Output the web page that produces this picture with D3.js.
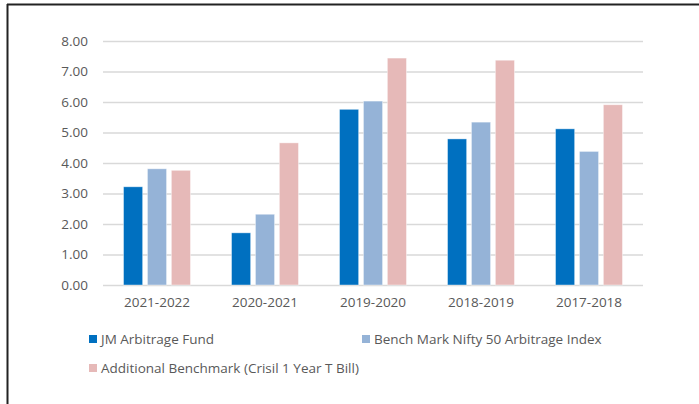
<!DOCTYPE html>
<html>
<head>
<meta charset="utf-8">
<script src="https://cdn.jsdelivr.net/npm/d3@7"></script>
<style>
  body { margin: 0; background: #fff; }
  text { font-family: "Open Sans", sans-serif; fill: #595959; }
</style>
</head>
<body>
<div id="chart"></div>
<script>
// Data
const years = ["2021-2022", "2020-2021", "2019-2020", "2018-2019", "2017-2018"];
const seriesNames = ["JM Arbitrage Fund", "Bench Mark Nifty 50 Arbitrage Index", "Additional Benchmark (Crisil 1 Year T Bill)"];
const jmFund = [3.22, 1.71, 5.76, 4.79, 5.12];
const niftyArb = [3.81, 2.32, 6.03, 5.34, 4.38];
const tBill = [3.76, 4.66, 7.44, 7.37, 5.91];
const yTicks = [0, 1, 2, 3, 4, 5, 6, 7, 8];

const seriesValues = [jmFund, niftyArb, tBill];
const colors = ["#0070C0", "#95B3D7", "#E6B9B8"];

const W = 699, H = 404;
const margin = { top: 41, right: 56, bottom: 119, left: 103 };
const width = W - margin.left - margin.right;
const height = H - margin.top - margin.bottom;

const svg = d3.select("#chart").append("svg")
    .attr("width", W)
    .attr("height", H);

// frame lines (top and left)
svg.append("line").attr("x1", 7).attr("x2", W).attr("y1", 4.5).attr("y2", 4.5)
    .attr("stroke", "#222").attr("stroke-width", 2);
svg.append("line").attr("x1", 7.5).attr("x2", 7.5).attr("y1", 4).attr("y2", H)
    .attr("stroke", "#222").attr("stroke-width", 2);

const g = svg.append("g").attr("transform", `translate(${margin.left},${margin.top})`);

// Scales
const x0 = d3.scaleBand().domain(years).range([0, width]).paddingInner(0.38).paddingOuter(0.19);
const x1 = d3.scaleBand().domain(d3.range(3)).range([0, x0.bandwidth()]).paddingInner(0.2);
const y = d3.scaleLinear().domain([0, 8]).range([height, 0]);

// Gridlines
g.append("g")
    .call(d3.axisLeft(y).tickValues(yTicks).tickSize(-width).tickFormat(""))
    .call(s => s.select(".domain").remove())
    .selectAll("line")
    .attr("stroke", "#D9D9D9")
    .attr("stroke-width", 1.3);

// Y labels
g.append("g")
    .call(d3.axisLeft(y).tickValues(yTicks).tickSize(0).tickPadding(15).tickFormat(d3.format(".2f")))
    .call(s => s.select(".domain").remove())
    .selectAll("text")
    .style("font-size", "13.5px");

// X labels
g.append("g")
    .attr("transform", `translate(0,${height})`)
    .call(d3.axisBottom(x0).tickSize(0).tickPadding(12))
    .call(s => s.select(".domain").remove())
    .selectAll("text")
    .style("font-size", "13.5px");

// Bars
const groups = g.selectAll(".grp")
    .data(years)
    .enter().append("g")
    .attr("transform", d => `translate(${x0(d)},0)`);

groups.selectAll("rect")
    .data((d, i) => seriesValues.map((vals, s) => ({ s, v: vals[i] })))
    .enter().append("rect")
    .attr("x", d => x1(d.s))
    .attr("y", d => y(d.v))
    .attr("width", x1.bandwidth())
    .attr("height", d => y(0) - y(d.v))
    .attr("fill", d => colors[d.s])
    .attr("stroke", "#fff")
    .attr("stroke-opacity", 0.5)
    .attr("stroke-width", 0.8);

// Legend
const legendPos = [[89, 339], [362, 339], [89, 368]];
const legend = svg.selectAll(".legend")
    .data(seriesNames)
    .enter().append("g")
    .attr("transform", (d, i) => `translate(${legendPos[i][0]},${legendPos[i][1]})`);

legend.append("rect")
    .attr("x", 0).attr("y", -4)
    .attr("width", 8).attr("height", 8)
    .attr("fill", (d, i) => colors[i]);

legend.append("text")
    .attr("x", 12)
    .attr("dy", "0.35em")
    .style("font-size", "13.5px")
    .text(d => d);
</script>
</body>
</html>
